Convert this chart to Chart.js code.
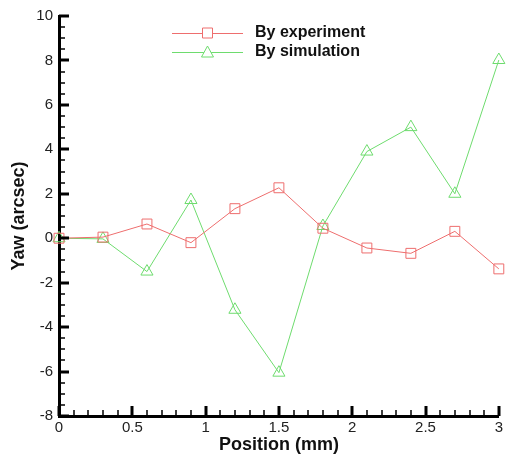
<!DOCTYPE html>
<html>
<head>
<meta charset="utf-8">
<script src="https://cdn.jsdelivr.net/npm/chart.js@4/dist/chart.umd.min.js"></script>
<style>
  html, body { margin:0; padding:0; background:#fff; }
  #wrap { width:506px; height:459px; }
</style>
</head>
<body>
<div id="wrap"><canvas id="yawChart" width="506" height="459"></canvas></div>
<script>
const positions = [0, 0.3, 0.6, 0.9, 1.2, 1.5, 1.8, 2.1, 2.4, 2.7, 3.0];
const experiment = [0, 0.05, 0.64, -0.2, 1.33, 2.27, 0.45, -0.44, -0.68, 0.31, -1.38];
const simulation = [0, -0.03, -1.5, 1.72, -3.22, -6.05, 0.55, 3.9, 5.0, 2.0, 8.02];
const seriesNames = ['By experiment', 'By simulation'];

const RED = 'rgb(238,110,110)';
const GREEN = 'rgb(110,220,110)';
const FONT = '"Liberation Sans", Arial, sans-serif';

// ticks drawn on the inside of the axes, like the original plot
const innerTicks = {
  id: 'innerTicks',
  afterDraw(chart) {
    const c = chart.ctx, xs = chart.scales.x, ys = chart.scales.y;
    c.save();
    c.strokeStyle = '#000';
    for (let i=0;i<=30;i++) {
      const px = Math.round(xs.getPixelForValue(i/10));
      const major = i % 5 === 0;
      c.lineWidth = major ? 3 : 1.5;
      c.beginPath();
      c.moveTo(px, ys.bottom);
      c.lineTo(px, ys.bottom - (major ? 10 : 6));
      c.stroke();
    }
    for (let i=0;i<=36;i++) {
      const py = Math.round(ys.getPixelForValue(-8 + i*0.5));
      const major = i % 4 === 0;
      c.lineWidth = major ? 3 : 1.5;
      c.beginPath();
      c.moveTo(xs.left, py);
      c.lineTo(xs.left + (major ? 10 : 6), py);
      c.stroke();
    }
    c.restore();
  }
};

// legend: line with marker in the middle, bold label on the right
const lineLegend = {
  id: 'lineLegend',
  afterDraw(chart) {
    const c = chart.ctx;
    c.save();
    chart.data.datasets.forEach((ds, i) => {
      const yy = 33 + i*19, x0 = 172, x1 = 243, xm = (x0+x1)/2;
      c.strokeStyle = ds.borderColor;
      c.lineWidth = 1;
      c.beginPath(); c.moveTo(x0, yy + 0.5); c.lineTo(x1, yy + 0.5); c.stroke();
      c.fillStyle = '#fff';
      c.beginPath();
      if (ds.pointStyle === 'rect') {
        c.rect(xm - 5, yy - 5, 10, 10);
      } else {
        c.moveTo(xm, yy - 6); c.lineTo(xm + 6, yy + 5); c.lineTo(xm - 6, yy + 5); c.closePath();
      }
      c.fill(); c.stroke();
      c.fillStyle = '#111';
      c.font = 'bold 16px ' + FONT;
      c.textBaseline = 'middle';
      c.fillText(ds.label, 255, yy);
    });
    c.restore();
  }
};

const ctx = document.getElementById('yawChart').getContext('2d');
new Chart(ctx, {
  type: 'line',
  data: {
    datasets: [
      { label: seriesNames[0], data: positions.map((p,i) => ({x:p, y:experiment[i]})),
        borderColor: RED, backgroundColor: 'rgba(255,255,255,0)', borderWidth: 1,
        pointStyle: 'rect', pointRadius: 7, pointBorderWidth: 1, pointBorderColor: RED, tension: 0,
        clip: 10 },
      { label: seriesNames[1], data: positions.map((p,i) => ({x:p, y:simulation[i]})),
        borderColor: GREEN, backgroundColor: 'rgba(255,255,255,0)', borderWidth: 1,
        pointStyle: 'triangle', pointRadius: 7, pointBorderWidth: 1, pointBorderColor: GREEN, tension: 0,
        clip: 10 }
    ]
  },
  options: {
    responsive: false,
    animation: false,
    layout: { autoPadding: false, padding: { top: 16, right: 5, left: 0, bottom: 0 } },
    plugins: { legend: { display:false }, tooltip: { enabled:false } },
    scales: {
      x: {
        type: 'linear', min: 0, max: 3,
        ticks: { stepSize: 0.5, padding: 3, color:'#222', font:{ family:FONT, size:15 },
                 callback: v => String(+v.toFixed(1)) },
        grid: { display:false, drawTicks:false },
        border: { display:true, color:'#000', width:3 },
        title: { display:true, text:'Position (mm)', color:'#111', padding:{top:0, bottom:3},
                 font:{ family:FONT, size:18, weight:'bold' } },
        afterFit(s) { s.height = 43; }
      },
      y: {
        min: -8, max: 10,
        ticks: { stepSize: 2, padding: 6, color:'#222', font:{ family:FONT, size:15 } },
        grid: { display:false, drawTicks:false },
        border: { display:true, color:'#000', width:3 },
        title: { display:true, text:'Yaw (arcsec)', color:'#111', padding:{top:8, bottom:0},
                 font:{ family:FONT, size:18, weight:'bold' } },
        afterFit(s) { s.width = 59; }
      }
    }
  },
  plugins: [innerTicks, lineLegend]
});
</script>
</body>
</html>
